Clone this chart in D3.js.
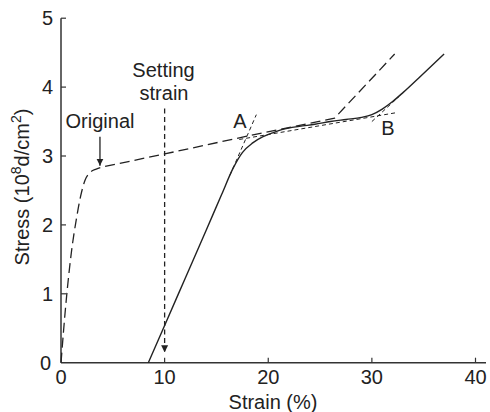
<!DOCTYPE html>
<html>
<head>
<meta charset="utf-8">
<script src="https://cdn.jsdelivr.net/npm/d3@7"></script>
<style>
  html, body { margin: 0; padding: 0; background: #fff; }
  svg { display: block; font-family: "Liberation Sans", Arial, Helvetica, sans-serif; }
</style>
</head>
<body>
<svg id="chart" width="490" height="412"></svg>
<script>
// Stress–strain data (strain in %, stress in 10^8 d/cm^2)
// Original fibre: rounded yield knee, then straight segments
const originalStrain = [0, 0.5, 1.0, 1.5, 1.9, 2.3, 2.8, 3.4, 4.0, 10.0, 18.0, 26.4, 32.2];
const originalStress = [0, 0.9, 1.6, 2.1, 2.42, 2.64, 2.76, 2.81, 2.84, 3.03, 3.29, 3.55, 4.48];
const originalKneeEnd = 9; // points before this index are smoothed

const setStrain = [8.43, 10.0, 12.0, 14.0, 15.5, 16.6, 17.5, 18.5, 19.5, 20.5, 21.5, 23.0, 24.5, 26.0, 27.5, 29.0, 30.0, 31.0, 32.0, 33.0, 34.5, 36.97];
const setStress = [0, 0.54, 1.23, 1.92, 2.44, 2.82, 3.05, 3.19, 3.28, 3.34, 3.39, 3.43, 3.46, 3.50, 3.53, 3.56, 3.60, 3.68, 3.79, 3.92, 4.13, 4.48];

// Tangent construction lines locating the knee points A and B
const tangentA = [[16.3, 2.72], [18.85, 3.60]];
const tangentPlateau = [[17.2, 3.24], [32.4, 3.63]];
const tangentB = [[30.0, 3.50], [32.6, 3.86]];

const settingStrain = 10;
const settingTop = 3.69;
const settingTip = 0.15;
const originalArrow = { x: 3.76, from: 3.28, to: 2.86 };

const xTicks = [0, 10, 20, 30, 40];
const yTicks = [0, 1, 2, 3, 4, 5];

const svg = d3.select("#chart");
const ink = "#222";

const x = d3.scaleLinear().domain([0, 40]).range([61, 475.5]);
const y = d3.scaleLinear().domain([0, 5]).range([362.7, 18.2]);

// Arrowhead marker
const defs = svg.append("defs");
defs.append("marker")
  .attr("id", "head")
  .attr("viewBox", "0 0 10 10")
  .attr("refX", 10).attr("refY", 5)
  .attr("markerWidth", 7).attr("markerHeight", 12)
  .attr("markerUnits", "userSpaceOnUse")
  .attr("orient", "auto")
  .append("path")
  .attr("d", "M0,0 L10,5 L0,10 Z")
  .attr("fill", ink);

// Axes
const axisColor = "#333";
svg.append("line")
  .attr("x1", x(0)).attr("x2", 486)
  .attr("y1", y(0)).attr("y2", y(0))
  .attr("stroke", axisColor).attr("stroke-width", 1.5);
svg.append("line")
  .attr("x1", x(0)).attr("x2", x(0))
  .attr("y1", y(0)).attr("y2", y(5))
  .attr("stroke", axisColor).attr("stroke-width", 1.5);

svg.selectAll(".xtick").data(xTicks.filter(d => d > 0)).enter().append("line")
  .attr("x1", d => x(d)).attr("x2", d => x(d))
  .attr("y1", y(0)).attr("y2", y(0) - 5)
  .attr("stroke", axisColor).attr("stroke-width", 1.2);
svg.selectAll(".ytick").data(yTicks.filter(d => d > 0)).enter().append("line")
  .attr("x1", x(0)).attr("x2", x(0) + 5)
  .attr("y1", d => y(d)).attr("y2", d => y(d))
  .attr("stroke", axisColor).attr("stroke-width", 1.2);

const fs = 20;
svg.selectAll(".xlab").data(xTicks).enter().append("text")
  .attr("x", d => x(d)).attr("y", 384)
  .attr("text-anchor", "middle")
  .attr("font-size", fs).attr("fill", ink)
  .text(d => d);
svg.selectAll(".ylab").data(yTicks).enter().append("text")
  .attr("x", d => d === 0 ? 51 : 53).attr("y", d => y(d) + 7)
  .attr("text-anchor", "end")
  .attr("font-size", fs).attr("fill", ink)
  .text(d => d);

svg.append("text")
  .attr("x", 273).attr("y", 409)
  .attr("text-anchor", "middle")
  .attr("font-size", fs).attr("fill", ink)
  .text("Strain (%)");

const yTitle = svg.append("text")
  .attr("transform", "translate(29,187) rotate(-90)")
  .attr("text-anchor", "middle")
  .attr("font-size", fs).attr("fill", ink);
yTitle.append("tspan").text("Stress (10");
yTitle.append("tspan").attr("font-size", 14).attr("dy", -8).text("8");
yTitle.append("tspan").attr("dy", 8).text("d/cm");
yTitle.append("tspan").attr("font-size", 14).attr("dy", -8).text("2");
yTitle.append("tspan").attr("dy", 8).text(")");

// Curves
const smooth = d3.line().x(d => x(d[0])).y(d => y(d[1])).curve(d3.curveMonotoneX);
const straight = d3.line().x(d => x(d[0])).y(d => y(d[1]));

// Original curve: smoothed knee joined to straight segments in one path
const origPts = originalStrain.map((s, i) => [s, originalStress[i]]);
const kneePath = smooth(origPts.slice(0, originalKneeEnd));
const tailPath = origPts.slice(originalKneeEnd)
  .map(d => `L${x(d[0])},${y(d[1])}`).join("");
svg.append("path")
  .attr("d", kneePath + tailPath)
  .attr("fill", "none").attr("stroke", ink).attr("stroke-width", 1.3)
  .attr("stroke-dasharray", "10,5");

svg.append("path")
  .datum(setStrain.map((s, i) => [s, setStress[i]]))
  .attr("d", smooth)
  .attr("fill", "none").attr("stroke", ink).attr("stroke-width", 1.4);

[tangentA, tangentPlateau, tangentB].forEach(seg => {
  svg.append("path")
    .datum(seg)
    .attr("d", straight)
    .attr("fill", "none").attr("stroke", ink).attr("stroke-width", 1)
    .attr("stroke-dasharray", "4,3");
});

// Setting strain marker
svg.append("line")
  .attr("x1", x(settingStrain)).attr("x2", x(settingStrain))
  .attr("y1", y(settingTop)).attr("y2", y(settingTip))
  .attr("stroke", ink).attr("stroke-width", 1.3)
  .attr("stroke-dasharray", "5,3.5")
  .attr("marker-end", "url(#head)");

svg.append("line")
  .attr("x1", x(originalArrow.x)).attr("x2", x(originalArrow.x))
  .attr("y1", y(originalArrow.from)).attr("y2", y(originalArrow.to))
  .attr("stroke", ink).attr("stroke-width", 1.3)
  .attr("marker-end", "url(#head)");

// Annotations
const notes = [
  { t: "Setting", x: 163.5, y: 77 },
  { t: "strain", x: 164, y: 100 },
  { t: "Original", x: 100, y: 127.5 },
  { t: "A", x: 240, y: 128 },
  { t: "B", x: 388, y: 135 }
];
svg.selectAll(".note").data(notes).enter().append("text")
  .attr("x", d => d.x).attr("y", d => d.y)
  .attr("text-anchor", "middle")
  .attr("font-size", fs).attr("fill", ink)
  .text(d => d.t);
</script>
</body>
</html>
